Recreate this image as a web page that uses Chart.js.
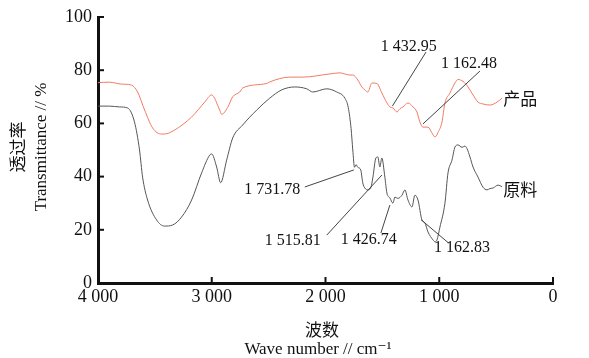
<!DOCTYPE html>
<html><head><meta charset="utf-8">
<script src="https://cdn.jsdelivr.net/npm/chart.js@4.4.1/dist/chart.umd.min.js"></script>
<style>html,body{margin:0;padding:0;background:#fff;}canvas{display:block;}</style>
</head><body>
<canvas id="c" width="589" height="358"></canvas>
<script>
// Raw material (原料) spectrum
const rawWave = [4000,3900,3811,3740,3679,3635,3608,3564,3485,3415,3344,3265,3177,3089,3018,3001,2957,2922,2869,2816,2728,2605,2490,2385,2270,2165,2112,1989,1901,1830,1800,1775,1760,1745,1732,1716,1690,1672,1654,1628,1600,1583,1557,1540,1522,1505,1478,1460,1434,1407,1390,1364,1328,1302,1275,1240,1214,1187,1152,1126,1099,1055,1037,1020,994,950,923,888,862,835,800,774,756,730,703,659,615,580,554,527,483,448];
const rawT    = [66.5,66.5,66.2,65.8,60.5,50,39.8,31.2,23.7,21.4,21.8,24.8,31.2,41.4,48.1,48.5,43.6,37.7,46.2,54.5,59.4,65,69.5,72.6,73.7,73,71.8,73,71.8,69.5,66,58,50,43.5,44.5,43.5,42.5,37.6,35.7,35,36,39.8,47,47.4,43.6,47,39.8,33.8,32,30,32.3,31.8,33,35,31.2,28.6,33,31.2,23.7,22.6,19.2,16.2,15.5,16.2,21,30,41.4,46.2,51.1,51.9,51,51.5,50.5,47.4,43.6,39.8,36,35,35.5,35.7,36.8,36.2];
// Product (产品) spectrum
const prodWave = [4000,3900,3800,3705,3652,3590,3520,3441,3415,3327,3177,3062,3001,2930,2913,2860,2816,2754,2728,2517,2490,2314,2200,1962,1874,1786,1760,1716,1681,1654,1628,1592,1548,1504,1460,1434,1407,1372,1346,1319,1275,1231,1196,1170,1143,1099,1064,1037,1011,976,950,906,862,835,791,747,703,659,615,554,492,448];
const prodT    = [75.3,75.5,74.8,74.4,71.8,65,58.3,56,56,57.5,62.4,68,70.7,65,63.4,66,70,71.8,73.3,75,75.6,77.4,77.4,78.6,79,78.2,78.2,76.3,73.7,72.6,71.8,75.2,75,71.4,67.7,66.2,65.8,64.3,65.5,66.2,67.7,66.2,64.3,60.5,58.6,58.6,56.4,54.9,56.6,60.5,67.7,71.4,75.2,76.5,75.8,73.7,70.7,68,67.3,66.9,68,69.5];
// Axis ticks
const xTicks = [4000,3000,2000,1000,0];
const yTicks = [0,20,40,60,80,100];
// Peak annotations: label text, label centre (wave, T), leader from (wave,T) to (wave,T)
const peakLabels = ['1 432.95','1 162.48','1 731.78','1 515.81','1 426.74','1 162.83'];
const peakLabelPos = [[1268,88.7],[738,82.3],[2468,35],[2288,15.8],[1619,16.2],[800,13.2]];
const peakLeaderFrom = [[1117,86.8],[642,79.7],[2182,36.1],[1989,18],[1513,18.8],[917,15]];
const peakLeaderTo = [[1412,66.5],[1143,59.8],[1751,42.5],[1504,40.6],[1434,29.3],[1160,23.8]];
// Series names and label anchors
const seriesNames = ['产品','原料'];
const seriesLabelPos = [[437,69.5],[437,35]];

const toXY = (xs, ys) => xs.map((x, i) => ({x, y: ys[i]}));
const serif = '"Liberation Serif","DejaVu Serif",serif';
const cjk = '"Noto Sans CJK SC","Liberation Serif",sans-serif';

const decor = {
  id: 'decor',
  afterDraw(chart) {
    const ctx = chart.ctx, xs = chart.scales.x, ys = chart.scales.y, ca = chart.chartArea;
    ctx.save();
    // inner tick marks
    ctx.strokeStyle = '#111'; ctx.lineWidth = 2;
    yTicks.forEach(v => { if (v === 0) return; const y = ys.getPixelForValue(v);
      ctx.beginPath(); ctx.moveTo(ca.left, y); ctx.lineTo(ca.left + 6, y); ctx.stroke(); });
    xTicks.forEach(v => { if (v === 4000) return; const x = xs.getPixelForValue(v);
      ctx.beginPath(); ctx.moveTo(x, ca.bottom); ctx.lineTo(x, ca.bottom - 6); ctx.stroke(); });
    // leader lines
    ctx.strokeStyle = '#444'; ctx.lineWidth = 1;
    peakLeaderFrom.forEach((f, i) => { const t = peakLeaderTo[i];
      ctx.beginPath(); ctx.moveTo(xs.getPixelForValue(f[0]), ys.getPixelForValue(f[1]));
      ctx.lineTo(xs.getPixelForValue(t[0]), ys.getPixelForValue(t[1])); ctx.stroke(); });
    // peak labels
    ctx.fillStyle = '#111'; ctx.font = '16px ' + serif; ctx.textAlign = 'center'; ctx.textBaseline = 'middle';
    peakLabels.forEach((s, i) => { const p = peakLabelPos[i];
      ctx.fillText(s, xs.getPixelForValue(p[0]), ys.getPixelForValue(p[1])); });
    // series labels
    ctx.font = '17px ' + cjk; ctx.textAlign = 'left';
    seriesNames.forEach((s, i) => { const p = seriesLabelPos[i];
      ctx.fillText(s, xs.getPixelForValue(p[0]), ys.getPixelForValue(p[1])); });
    // axis titles
    ctx.textAlign = 'center';
    ctx.font = '17px ' + cjk; ctx.fillText('波数', 322, 330);
    ctx.font = '17px ' + serif; ctx.fillText('Wave number // cm\u207B\u00B9', 318, 350);
    ctx.translate(18, 147); ctx.rotate(-Math.PI / 2);
    ctx.font = '17px ' + cjk; ctx.fillText('透过率', 0, 0);
    ctx.restore(); ctx.save();
    ctx.fillStyle = '#111'; ctx.textAlign = 'center'; ctx.textBaseline = 'middle';
    ctx.translate(42, 147); ctx.rotate(-Math.PI / 2);
    ctx.font = '17px ' + serif; ctx.fillText('Transmittance // %', 0, 0);
    ctx.restore();
  }
};

new Chart(document.getElementById('c'), {
  type: 'line',
  data: { datasets: [
    { label: seriesNames[0], data: toXY(prodWave, prodT), borderColor: '#f27a62', borderWidth: 1, pointRadius: 0, cubicInterpolationMode: 'monotone', fill: false },
    { label: seriesNames[1], data: toXY(rawWave, rawT), borderColor: '#555555', borderWidth: 1, pointRadius: 0, cubicInterpolationMode: 'monotone', fill: false }
  ]},
  options: {
    responsive: false, animation: false, devicePixelRatio: 1,
    layout: { padding: { top: 17, right: 36, left: 0, bottom: 0 } },
    plugins: { legend: { display: false }, tooltip: { enabled: false } },
    scales: {
      x: { type: 'linear', reverse: true, min: 0, max: 4000,
        afterFit: s => { s.height = 75; },
        afterBuildTicks: s => { s.ticks = xTicks.map(v => ({value: v})); },
        grid: { display: false, drawTicks: false },
        border: { display: true, color: '#111', width: 3 },
        ticks: { padding: 3, color: '#111', font: { family: serif, size: 18 }, maxRotation: 0,
          callback: v => v >= 1000 ? Math.floor(v/1000) + ' ' + String(v % 1000).padStart(3,'0') : String(v) } },
      y: { min: 0, max: 100,
        afterFit: s => { s.width = 98; },
        afterBuildTicks: s => { s.ticks = yTicks.map(v => ({value: v})); },
        grid: { display: false, drawTicks: false },
        border: { display: true, color: '#111', width: 3 },
        ticks: { padding: 6, color: '#111', font: { family: serif, size: 18 } } }
    }
  },
  plugins: [decor]
});
</script>
</body></html>
